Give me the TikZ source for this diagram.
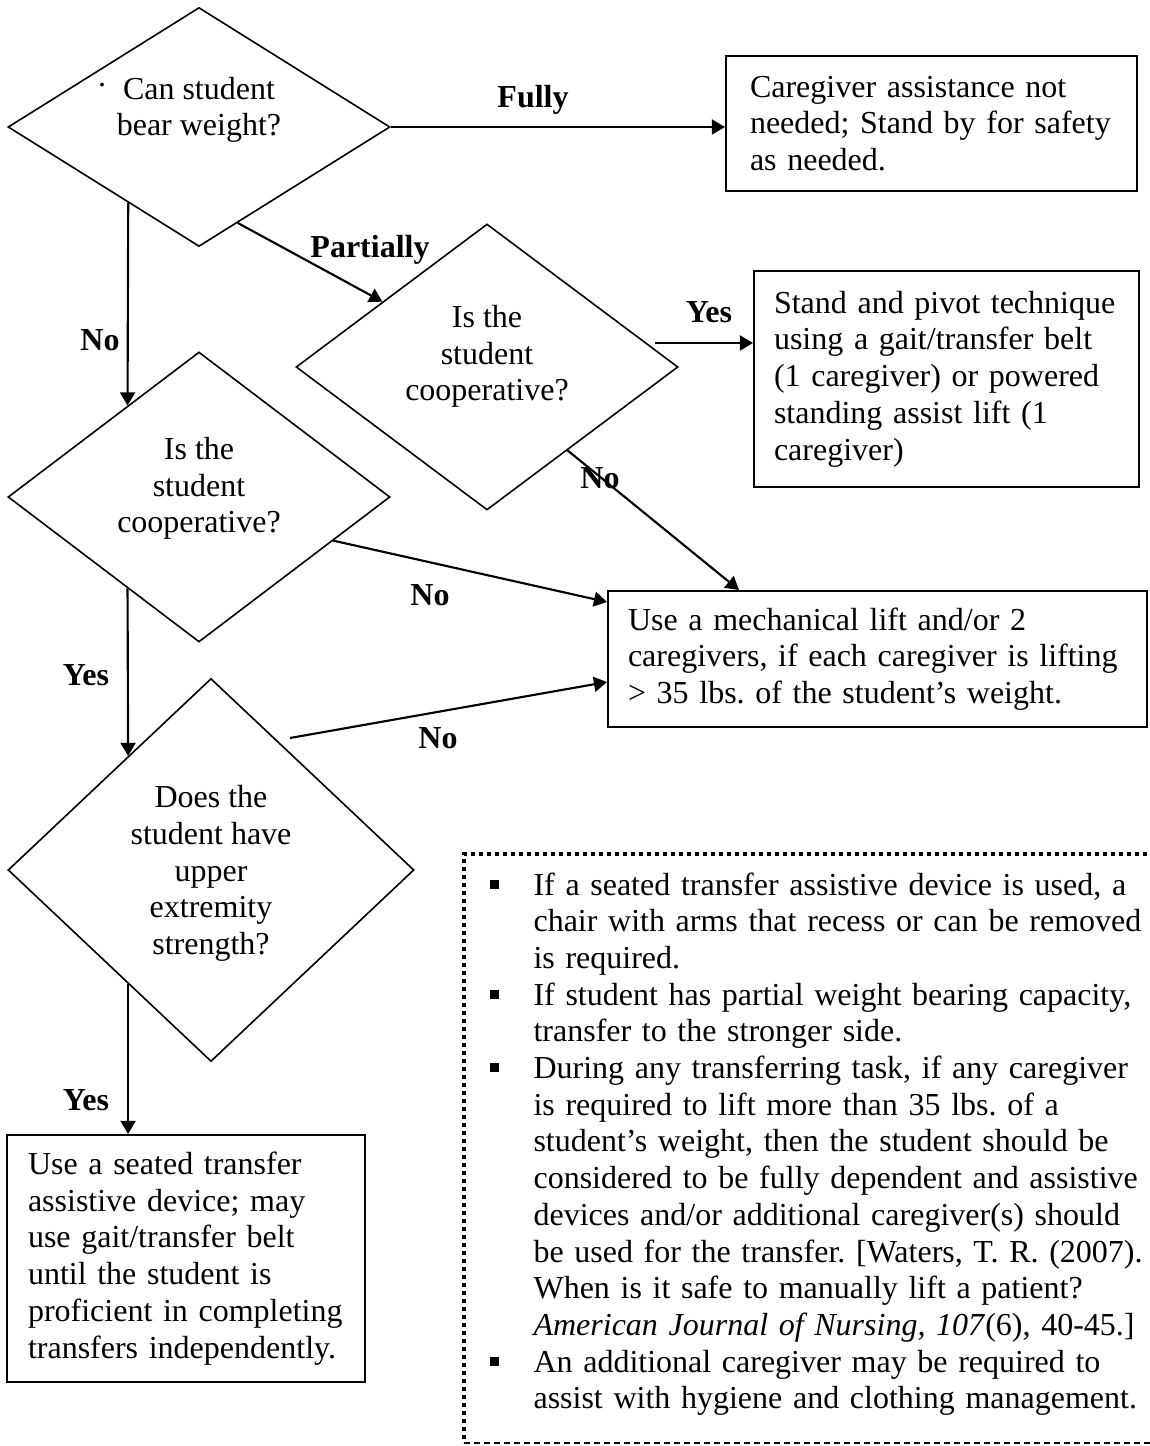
\documentclass[tikz,border=0pt]{standalone}
\usepackage{fontspec}
\setmainfont{Liberation Serif}
\usetikzlibrary{shapes.geometric,arrows.meta,calc}

% text setting shared by every node: 12pt, fixed word spaces
\newcommand{\chartfont}{\fontsize{12pt}{13.76pt}\selectfont\frenchspacing\spaceskip=3pt\relax}
% small square bullet hung to the left of an item's first line
\newcommand{\sqbul}{\leavevmode\llap{\rule[2.4pt]{3.4pt}{3.4pt}\hspace{13.1pt}}}

\begin{document}
\begin{tikzpicture}[x=0.375pt,y=-0.375pt,
  every node/.style={font=\chartfont},
  decision/.style={diamond,draw,line width=0.6pt,inner sep=0pt},
  qtext/.style={align=center,inner sep=0pt},
  outcome/.style={draw,line width=0.75pt,align=left,inner ysep=0pt},
  branch/.style={font=\chartfont\bfseries,inner sep=0pt},
  flow/.style={line width=0.8pt,-{Triangle[length=4.9pt,width=5.6pt]}},
  dotborder/.style={line width=1.6pt,dash pattern=on 1.6pt off 1.4pt},
  dashborder/.style={line width=0.55pt,dash pattern=on 2.25pt off 1.5pt},
]
\useasboundingbox (0,0) rectangle (1149,1446);

% decisions
\node[decision,minimum width=143.25pt,minimum height=89.625pt] (q1) at (199,127) {};
\node[qtext] (q1t) at (199,110) {Can student\\bear weight?};
\node[inner sep=0pt] (q1dot) at (102,85) {.};

\node[decision,minimum width=143.25pt,minimum height=107.25pt] (q3) at (487,367) {};
\node[qtext] (q3t) at (487,356.5) {Is the\\student\\cooperative?};

\node[decision,minimum width=143.25pt,minimum height=108.75pt] (q2) at (199,497) {};
\node[qtext] (q2t) at (199,488.5) {Is the\\student\\cooperative?};

\node[decision,minimum width=152.25pt,minimum height=143.625pt] (q4) at (211,870) {};
\node[qtext] (q4t) at (211,873.5) {Does the\\student have\\upper\\extremity\\strength?};

% outcomes
\node[outcome,minimum width=154.125pt,minimum height=50.625pt,inner xsep=9pt,text width=136.125pt] (o1) at (931.5,123.5)
  {Caregiver assistance not\\needed; Stand by for safety\\as needed.};
\node[outcome,minimum width=144.375pt,minimum height=81pt,inner xsep=7.5pt,text width=129.375pt] (o2) at (946.5,379)
  {Stand and pivot technique\\using a gait/transfer belt\\(1 caregiver) or powered\\standing assist lift (1\\caregiver)};
\node[outcome,minimum width=202.125pt,minimum height=51pt,inner xsep=7.5pt,text width=187.125pt] (o3) at (877.5,659)
  {Use a mechanical lift and/or 2\\caregivers, if each caregiver is lifting\\> 35 lbs. of the student’s weight.};
\node[outcome,minimum width=134.25pt,minimum height=92.625pt,inner xsep=7.875pt,text width=118.5pt] (o4) at (186,1258.5)
  {Use a seated transfer\\assistive device; may\\use gait/transfer belt\\until the student is\\proficient in completing\\transfers independently.};

% connectors
\draw[flow] (q1.east) -- (q1.east -| o1.west);
\draw[flow] (q1.-133.4) -- (q2.128);
\draw[flow] (q1.-68.6) -- (q3.148.2);
\coordinate (y3s) at ($(q3.center)+(168,-24)$);
\draw[flow] (y3s) -- (y3s -| o2.west);
\draw[flow] (q3.-46) -- ($(o3.north west)+(132,0)$);
\draw[flow] (q2.-18.9) -- ($(o3.west)+(0,-57)$);
\draw[flow] (q2.-128) -- (q4.126.3);
\coordinate (n4s) at ($(q4.center)+(79,-132)$);
\draw[flow] (n4s) -- ($(o3.west)+(0,23)$);
\draw[flow] (q4.-126.3) -- (q4.-126.3 |- o4.north);

% branch labels
\node[branch] (lfully) at (533,100) {Fully};
\node[branch] (lpart) at (370,250) {Partially};
\node[branch] (lno1) at (100,340) {No};
\node[branch] (lyes1) at (709,312) {Yes};
\node[branch] (lno2) at (600,478) {No};
\node[branch] (lno3) at (430,595) {No};
\node[branch] (lyes2) at (86,675) {Yes};
\node[branch] (lno4) at (438,738) {No};
\node[branch] (lyes3) at (86,1100) {Yes};

% notes panel
\coordinate (ntl) at (464,854);
\coordinate (nbl) at (464,1443);
\coordinate (ntr) at (1155,854);
\coordinate (nbr) at (1155,1443);
\draw[dotborder] (ntr) -- (ntl) -- (nbl);
\draw[dashborder] (nbl) -- (nbr);
\node[anchor=north west,align=left,inner sep=0pt,text width=228.75pt] (notes) at (533,872) {%
\sqbul If a seated transfer assistive device is used, a\\
chair with arms that recess or can be removed\\
is required.\\
\sqbul If student has partial weight bearing capacity,\\
transfer to the stronger side.\\
\sqbul During any transferring task, if any caregiver\\
is required to lift more than 35 lbs. of a\\
student’s weight, then the student should be\\
considered to be fully dependent and assistive\\
devices and/or additional caregiver(s) should\\
be used for the transfer. [Waters, T. R. (2007).\\
When is it safe to manually lift a patient?\\
\textit{American Journal of Nursing, 107}(6), 40-45.]\\
\sqbul An additional caregiver may be required to\\
assist with hygiene and clothing management.};
\end{tikzpicture}
\end{document}
